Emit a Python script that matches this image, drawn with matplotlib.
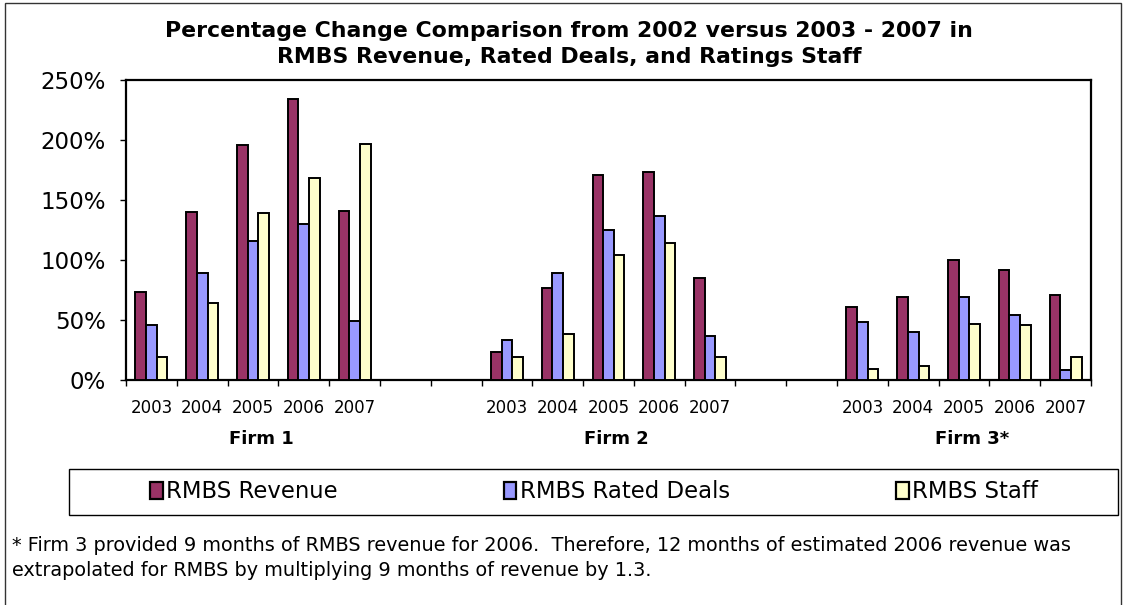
import numpy as np
import matplotlib
matplotlib.use("Agg")
import matplotlib.pyplot as plt
from matplotlib.patches import Rectangle, Patch
from matplotlib.transforms import blended_transform_factory, ScaledTranslation

# ---- data ----
years = ['2003', '2004', '2005', '2006', '2007']
firms = ['Firm 1', 'Firm 2', 'Firm 3*']
series_names = ['RMBS Revenue', 'RMBS Rated Deals', 'RMBS Staff']

revenue_f1 = [73, 140, 196, 234, 141]
deals_f1 = [46, 89, 116, 130, 49]
staff_f1 = [19, 64, 139, 168, 197]

revenue_f2 = [23, 77, 171, 173, 85]
deals_f2 = [33, 89, 125, 137, 37]
staff_f2 = [19, 38, 104, 114, 19]

revenue_f3 = [61, 69, 100, 92, 71]
deals_f3 = [48, 40, 69, 54, 8]
staff_f3 = [9, 12, 47, 46, 19]

yticks = [0, 50, 100, 150, 200, 250]

# ---- style ----
colors = ['#993366', '#9999FF', '#FFFFCC']
plt.rcParams['font.family'] = ['DejaVu Sans']

W, H = 1125, 605
fig = plt.figure(figsize=(W / 100, H / 100), dpi=100)

def fx(px):
    return px / W

def fy(py):
    return 1 - py / H

ax = fig.add_axes([fx(126), fy(380), fx(1091) - fx(126), fy(80) - fy(380)])

slots_per_firm = len(years) + 2
n_slots = slots_per_firm * len(firms) - 2
firm_offsets = [i * slots_per_firm for i in range(len(firms))]

data = [
    [revenue_f1, deals_f1, staff_f1],
    [revenue_f2, deals_f2, staff_f2],
    [revenue_f3, deals_f3, staff_f3],
]

bw = 0.21
centers_all = []
for fi, off in enumerate(firm_offsets):
    centers = np.arange(len(years)) + off + 0.5
    centers_all.extend(centers)
    for si in range(3):
        ax.bar(centers + (si - 1) * bw, data[fi][si], width=bw,
               color=colors[si], edgecolor='black', linewidth=1.4,
               label=series_names[si] if fi == 0 else None, zorder=3)

ax.set_xlim(0, n_slots)
ax.set_ylim(0, 250)
ax.set_yticks(yticks)
ax.set_yticklabels([f'{v}%' for v in yticks], fontsize=16.5)
ax.tick_params(axis='y', direction='out', length=4.5, width=1, pad=10)

ax.set_xticks(np.arange(n_slots + 1))
ax.set_xticklabels([])
ax.tick_params(axis='x', which='major', direction='out', length=4, width=1)
ax.set_xticks(centers_all, minor=True)
ax.set_xticklabels(years * len(firms), minor=True, fontsize=12)
ax.tick_params(axis='x', which='minor', length=0, pad=14)

for sp in ax.spines.values():
    sp.set_linewidth(1.6)
    sp.set_color('black')

trans = blended_transform_factory(ax.transData, ax.transAxes) + \
    ScaledTranslation(8 / 100, 0, fig.dpi_scale_trans)
for fi, off in enumerate(firm_offsets):
    ax.text(off + len(years) / 2, -0.197, firms[fi], transform=trans,
            ha='center', va='center', fontsize=13, fontweight='bold')

# title
fig.text(fx(569), fy(44),
         'Percentage Change Comparison from 2002 versus 2003 - 2007 in\n'
         'RMBS Revenue, Rated Deals, and Ratings Staff',
         ha='center', va='center', fontsize=15.8, fontweight='bold',
         linespacing=1.42)

# legend box + legend
fig.add_artist(Rectangle((fx(69), fy(515)), fx(1118) - fx(69), fy(469) - fy(515),
                         transform=fig.transFigure, fill=False,
                         edgecolor='black', linewidth=1))
handles = [Patch(facecolor=c, edgecolor='black', linewidth=1.6) for c in colors]
fig.legend(handles, series_names, loc='center',
           bbox_to_anchor=(fx(594), fy(492)), ncol=3, frameon=False,
           fontsize=16.4, handlelength=0.55, handleheight=0.8,
           handletextpad=0.15, columnspacing=7.3)

# footnote
fig.text(fx(12), fy(558),
         '* Firm 3 provided 9 months of RMBS revenue for 2006.  Therefore, 12 months of estimated 2006 revenue was\n'
         'extrapolated for RMBS by multiplying 9 months of revenue by 1.3.',
         ha='left', va='center', fontsize=13.85, linespacing=1.45)

# outer border
fig.add_artist(Rectangle((fx(5), fy(608)), fx(1121) - fx(5), fy(3) - fy(608),
                         transform=fig.transFigure, fill=False,
                         edgecolor='#333333', linewidth=1))

fig.savefig('out.png', dpi=100)
